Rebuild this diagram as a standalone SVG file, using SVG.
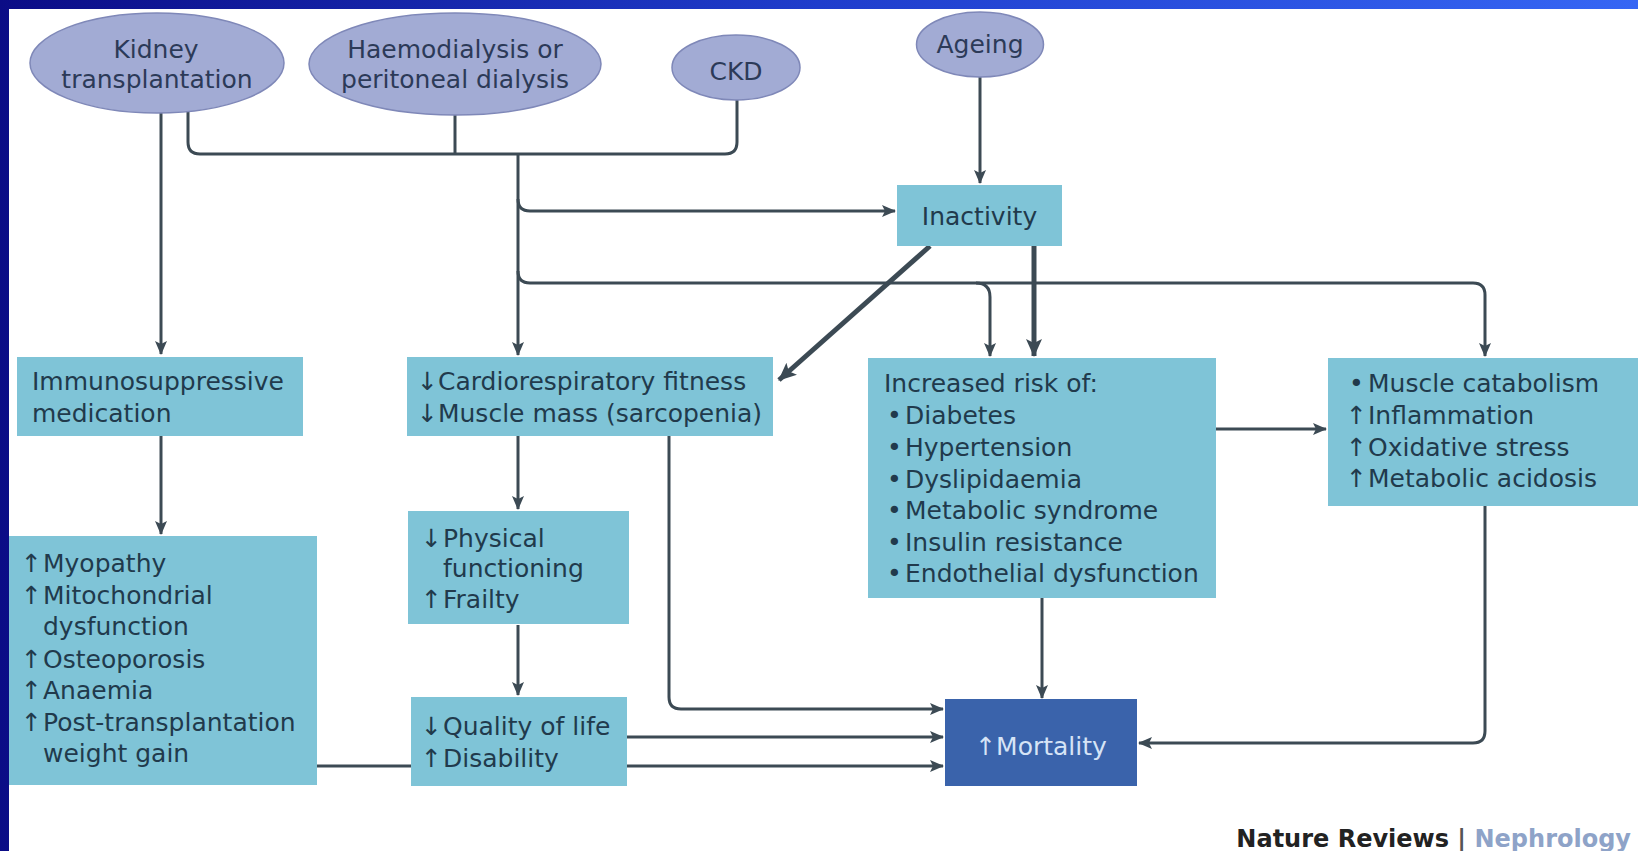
<svg xmlns="http://www.w3.org/2000/svg" width="1638" height="851" viewBox="0 0 1638 851">
<defs>
<linearGradient id="bg" x1="0" y1="0" x2="1" y2="0">
<stop offset="0" stop-color="#0b0c86"/>
<stop offset="0.5" stop-color="#1f3dcc"/>
<stop offset="1" stop-color="#3666f4"/>
</linearGradient>
<marker id="ah" markerUnits="userSpaceOnUse" markerWidth="14" markerHeight="12" refX="13" refY="6" orient="auto">
<path d="M0,0 L14,6 L0,12 L3,6 Z" fill="#3c4a54"/>
</marker>
<marker id="ahb" markerUnits="userSpaceOnUse" markerWidth="18" markerHeight="16" refX="17" refY="8" orient="auto">
<path d="M0,0 L18,8 L0,16 L4,8 Z" fill="#3c4a54"/>
</marker>
</defs>
<style>
.ell{fill:#a2abd4;stroke:#7f88b8;stroke-width:1.5}
.box{fill:#7fc4d7}
.mort{fill:#3a63ab}
.t{font-family:"DejaVu Sans",sans-serif;font-size:25px;fill:#213a4c}
.te{font-family:"DejaVu Sans",sans-serif;font-size:25px;fill:#2c3a58;text-anchor:middle}
.c{fill:none;stroke:#3c4a54;stroke-width:3}
.ca{fill:none;stroke:#3c4a54;stroke-width:3;marker-end:url(#ah)}
.cb{fill:none;stroke:#3c4a54;stroke-width:5;marker-end:url(#ahb)}
.foot{font-family:"DejaVu Sans",sans-serif;font-size:24px;font-weight:bold}
</style>
<rect x="0" y="0" width="1638" height="851" fill="url(#bg)"/>
<rect x="9" y="9" width="1629" height="842" fill="#ffffff"/>

<g id="connectors">
<path class="ca" d="M161,113 V354"/>
<path class="c" d="M188,108 V142 Q188,154 200,154 H725 Q737,154 737,142 V100"/>
<path class="c" d="M455,115 V154"/>
<path class="ca" d="M518,154 V355"/>
<path class="ca" d="M518,199 Q518,211 530,211 H895"/>
<path class="ca" d="M518,271 Q518,283 530,283 H1473 Q1485,283 1485,295 V356"/>
<path class="ca" d="M976,283 Q990,283 990,297 V356"/>
<path class="ca" d="M980,77 V183"/>
<path class="cb" d="M930,246 L779,380"/>
<path class="cb" d="M1034,246 V356"/>
<path class="ca" d="M161,436 V534"/>
<path class="ca" d="M518,436 V509"/>
<path class="ca" d="M518,625 V695"/>
<path class="ca" d="M669,436 V697 Q669,709 681,709 H943"/>
<path class="ca" d="M627,737 H943"/>
<path class="ca" d="M317,766 H943"/>
<path class="ca" d="M1042,597 V698"/>
<path class="ca" d="M1216,429 H1326"/>
<path class="ca" d="M1485,506 V731 Q1485,743 1473,743 H1139"/>
</g>

<g id="kidney">
<ellipse class="ell" cx="157" cy="63" rx="127" ry="50"/>
<text class="te" x="156" y="58">Kidney</text>
<text class="te" x="157" y="88">transplantation</text>
</g>
<g id="dialysis">
<ellipse class="ell" cx="455" cy="64" rx="146" ry="51"/>
<text class="te" x="455" y="58">Haemodialysis or</text>
<text class="te" x="455" y="88">peritoneal dialysis</text>
</g>
<g id="ckd">
<ellipse class="ell" cx="736" cy="67.5" rx="64" ry="32.5"/>
<text class="te" x="736" y="80">CKD</text>
</g>
<g id="ageing">
<ellipse class="ell" cx="980" cy="44.5" rx="63.5" ry="32.5"/>
<text class="te" x="980" y="53">Ageing</text>
</g>

<g id="inactivity">
<rect class="box" x="897" y="185" width="165" height="61"/>
<text class="t" x="979.5" y="225" text-anchor="middle">Inactivity</text>
</g>

<g id="immuno">
<rect class="box" x="17" y="357" width="286" height="79"/>
<text class="t" x="32" y="390">Immunosuppressive</text>
<text class="t" x="32" y="422">medication</text>
</g>

<g id="cardio">
<rect class="box" x="407" y="357" width="366" height="79"/>
<text class="t" x="417" y="390">↓Cardiorespiratory fitness</text>
<text class="t" x="417" y="422">↓Muscle mass (sarcopenia)</text>
</g>

<g id="risk">
<rect class="box" x="868" y="358" width="348" height="240"/>
<text class="t" x="884" y="392">Increased risk of:</text>
<text class="t"><tspan x="887" y="424">•</tspan><tspan x="905" y="424">Diabetes</tspan></text>
<text class="t"><tspan x="887" y="456">•</tspan><tspan x="905" y="456">Hypertension</tspan></text>
<text class="t"><tspan x="887" y="488">•</tspan><tspan x="905" y="488">Dyslipidaemia</tspan></text>
<text class="t"><tspan x="887" y="519">•</tspan><tspan x="905" y="519">Metabolic syndrome</tspan></text>
<text class="t"><tspan x="887" y="551">•</tspan><tspan x="905" y="551">Insulin resistance</tspan></text>
<text class="t"><tspan x="887" y="582">•</tspan><tspan x="905" y="582">Endothelial dysfunction</tspan></text>
</g>

<g id="catabolism">
<rect class="box" x="1328" y="358" width="310" height="148"/>
<text class="t"><tspan x="1349" y="392">•</tspan><tspan x="1368" y="392">Muscle catabolism</tspan></text>
<text class="t"><tspan x="1346" y="424">↑</tspan><tspan x="1368" y="424">Inflammation</tspan></text>
<text class="t"><tspan x="1346" y="456">↑</tspan><tspan x="1368" y="456">Oxidative stress</tspan></text>
<text class="t"><tspan x="1346" y="487">↑</tspan><tspan x="1368" y="487">Metabolic acidosis</tspan></text>
</g>

<g id="myopathy">
<rect class="box" x="9" y="536" width="308" height="249"/>
<text class="t"><tspan x="21" y="572">↑</tspan><tspan x="43" y="572">Myopathy</tspan></text>
<text class="t"><tspan x="21" y="604">↑</tspan><tspan x="43" y="604">Mitochondrial</tspan></text>
<text class="t" x="43" y="635">dysfunction</text>
<text class="t"><tspan x="21" y="668">↑</tspan><tspan x="43" y="668">Osteoporosis</tspan></text>
<text class="t"><tspan x="21" y="699">↑</tspan><tspan x="43" y="699">Anaemia</tspan></text>
<text class="t"><tspan x="21" y="731">↑</tspan><tspan x="43" y="731">Post-transplantation</tspan></text>
<text class="t" x="43" y="762">weight gain</text>
</g>

<g id="physical">
<rect class="box" x="408" y="511" width="221" height="113"/>
<text class="t"><tspan x="421" y="547">↓</tspan><tspan x="443" y="547">Physical</tspan></text>
<text class="t" x="443" y="577">functioning</text>
<text class="t"><tspan x="421" y="608">↑</tspan><tspan x="443" y="608">Frailty</tspan></text>
</g>

<g id="quality">
<rect class="box" x="411" y="697" width="216" height="89"/>
<text class="t"><tspan x="421" y="735">↓</tspan><tspan x="443" y="735">Quality of life</tspan></text>
<text class="t"><tspan x="421" y="767">↑</tspan><tspan x="443" y="767">Disability</tspan></text>
</g>

<g id="mortality">
<rect class="mort" x="945" y="699" width="192" height="87"/>
<text class="t" x="1041" y="755" text-anchor="middle" style="fill:#d6e4f6">↑Mortality</text>
</g>

<text class="foot" x="1631" y="847" text-anchor="end"><tspan fill="#222222">Nature Reviews</tspan><tspan fill="#555555"> | </tspan><tspan fill="#8ea3c8">Nephrology</tspan></text>
</svg>
